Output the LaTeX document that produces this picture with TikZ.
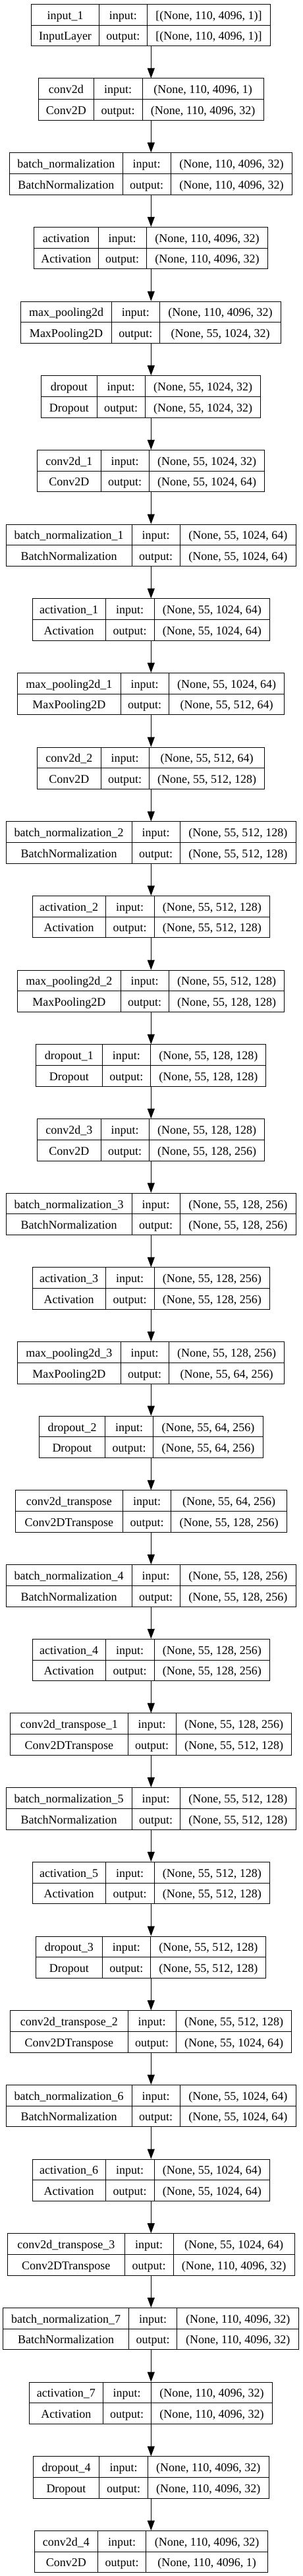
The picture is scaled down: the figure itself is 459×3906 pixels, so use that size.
\documentclass[tikz,border=0pt]{standalone}
\usepackage{fontspec}
\setmainfont{Liberation Serif}
\usetikzlibrary{arrows.meta}
\tikzset{font=\fontsize{18}{22}\selectfont}
\tikzset{cell/.style={anchor=base, inner sep=0pt}}
\tikzset{layer/.style={draw, line width=1pt, inner sep=0pt, anchor=north,
    minimum height=63.5pt}}
\tikzset{flow/.style={line width=1pt, -{Triangle[width=11pt,length=15pt]}}}

% id, index, left edge, first split, second split, name, class, input, output
\newcommand{\layerbox}[9]{%
  \pgfmathsetmacro\ltop{5.8+112.68*(#2-1)}
  \pgfmathsetmacro\lwid{2*(229.3-#3)}
  \pgfmathsetmacro\lright{458.6-#3}
  \node[layer, minimum width=\lwid pt] (#1) at (229.3,\ltop) {};
  \draw[line width=1pt] (#4,\ltop) -- ++(0,63.5) (#5,\ltop) -- ++(0,63.5)
    (#1.west) -- (#1.east);
  \node[cell] (#1-name) at ({(#3+#4)/2},{\ltop+23.3}) {#6};
  \node[cell] (#1-cls) at ({(#3+#4)/2},{\ltop+55}) {#7};
  \node[cell] (#1-kin) at ({(#4+#5)/2},{\ltop+23.3}) {input:};
  \node[cell] (#1-kout) at ({(#4+#5)/2},{\ltop+55}) {output:};
  \node[cell] (#1-in) at ({(#5+\lright)/2},{\ltop+23.3}) {#8};
  \node[cell] (#1-out) at ({(#5+\lright)/2},{\ltop+55}) {#9};
}

\begin{document}
\begin{tikzpicture}[x=1pt, y=-1pt]
  \useasboundingbox (0,0) rectangle (459,3906);

  \layerbox{l1}{1}{47.7}{150.3}{223.3}{input\_1}{InputLayer}{[(None, 110, 4096, 1)]}{[(None, 110, 4096, 1)]}
  \layerbox{l2}{2}{58.3}{142.3}{216}{conv2d}{Conv2D}{(None, 110, 4096, 1)}{(None, 110, 4096, 32)}
  \layerbox{l3}{3}{14.7}{186}{259.3}{batch\_normalization}{BatchNormalization}{(None, 110, 4096, 32)}{(None, 110, 4096, 32)}
  \layerbox{l4}{4}{51.7}{149}{222.3}{activation}{Activation}{(None, 110, 4096, 32)}{(None, 110, 4096, 32)}
  \layerbox{l5}{5}{31.7}{169.3}{242.3}{max\_pooling2d}{MaxPooling2D}{(None, 110, 4096, 32)}{(None, 55, 1024, 32)}
  \layerbox{l6}{6}{62.7}{147}{220.3}{dropout}{Dropout}{(None, 55, 1024, 32)}{(None, 55, 1024, 32)}
  \layerbox{l7}{7}{56.7}{153}{226.3}{conv2d\_1}{Conv2D}{(None, 55, 1024, 32)}{(None, 55, 1024, 64)}
  \layerbox{l8}{8}{9.3}{200}{273.3}{batch\_normalization\_1}{BatchNormalization}{(None, 55, 1024, 64)}{(None, 55, 1024, 64)}
  \layerbox{l9}{9}{49}{160.3}{234}{activation\_1}{Activation}{(None, 55, 1024, 64)}{(None, 55, 1024, 64)}
  \layerbox{l10}{10}{26.7}{183}{256.3}{max\_pooling2d\_1}{MaxPooling2D}{(None, 55, 1024, 64)}{(None, 55, 512, 64)}
  \layerbox{l11}{11}{56.7}{153}{226.3}{conv2d\_2}{Conv2D}{(None, 55, 512, 64)}{(None, 55, 512, 128)}
  \layerbox{l12}{12}{9.3}{200}{273.3}{batch\_normalization\_2}{BatchNormalization}{(None, 55, 512, 128)}{(None, 55, 512, 128)}
  \layerbox{l13}{13}{49}{160.3}{234}{activation\_2}{Activation}{(None, 55, 512, 128)}{(None, 55, 512, 128)}
  \layerbox{l14}{14}{26.7}{183}{256.3}{max\_pooling2d\_2}{MaxPooling2D}{(None, 55, 512, 128)}{(None, 55, 128, 128)}
  \layerbox{l15}{15}{54.7}{155}{228.7}{dropout\_1}{Dropout}{(None, 55, 128, 128)}{(None, 55, 128, 128)}
  \layerbox{l16}{16}{56.7}{153}{226.3}{conv2d\_3}{Conv2D}{(None, 55, 128, 128)}{(None, 55, 128, 256)}
  \layerbox{l17}{17}{9.3}{200}{273.3}{batch\_normalization\_3}{BatchNormalization}{(None, 55, 128, 256)}{(None, 55, 128, 256)}
  \layerbox{l18}{18}{49}{160.3}{234}{activation\_3}{Activation}{(None, 55, 128, 256)}{(None, 55, 128, 256)}
  \layerbox{l19}{19}{26.7}{183}{256.3}{max\_pooling2d\_3}{MaxPooling2D}{(None, 55, 128, 256)}{(None, 55, 64, 256)}
  \layerbox{l20}{20}{59.3}{159.7}{232.7}{dropout\_2}{Dropout}{(None, 55, 64, 256)}{(None, 55, 64, 256)}
  \layerbox{l21}{21}{23}{186.7}{259.7}{conv2d\_transpose}{Conv2DTranspose}{(None, 55, 64, 256)}{(None, 55, 128, 256)}
  \layerbox{l22}{22}{9.3}{200}{273.3}{batch\_normalization\_4}{BatchNormalization}{(None, 55, 128, 256)}{(None, 55, 128, 256)}
  \layerbox{l23}{23}{49}{160.3}{234}{activation\_4}{Activation}{(None, 55, 128, 256)}{(None, 55, 128, 256)}
  \layerbox{l24}{24}{15.7}{194}{267.3}{conv2d\_transpose\_1}{Conv2DTranspose}{(None, 55, 128, 256)}{(None, 55, 512, 128)}
  \layerbox{l25}{25}{9.3}{200}{273.3}{batch\_normalization\_5}{BatchNormalization}{(None, 55, 512, 128)}{(None, 55, 512, 128)}
  \layerbox{l26}{26}{49}{160.3}{234}{activation\_5}{Activation}{(None, 55, 512, 128)}{(None, 55, 512, 128)}
  \layerbox{l27}{27}{54.7}{155}{228.7}{dropout\_3}{Dropout}{(None, 55, 512, 128)}{(None, 55, 512, 128)}
  \layerbox{l28}{28}{15.7}{194}{267.3}{conv2d\_transpose\_2}{Conv2DTranspose}{(None, 55, 512, 128)}{(None, 55, 1024, 64)}
  \layerbox{l29}{29}{9.3}{200}{273.3}{batch\_normalization\_6}{BatchNormalization}{(None, 55, 1024, 64)}{(None, 55, 1024, 64)}
  \layerbox{l30}{30}{49}{160.3}{234}{activation\_6}{Activation}{(None, 55, 1024, 64)}{(None, 55, 1024, 64)}
  \layerbox{l31}{31}{11.3}{189.3}{263}{conv2d\_transpose\_3}{Conv2DTranspose}{(None, 55, 1024, 64)}{(None, 110, 4096, 32)}
  \layerbox{l32}{32}{4.7}{195.3}{268.7}{batch\_normalization\_7}{BatchNormalization}{(None, 110, 4096, 32)}{(None, 110, 4096, 32)}
  \layerbox{l33}{33}{44.7}{156}{229.3}{activation\_7}{Activation}{(None, 110, 4096, 32)}{(None, 110, 4096, 32)}
  \layerbox{l34}{34}{50.3}{150.7}{224.3}{dropout\_4}{Dropout}{(None, 110, 4096, 32)}{(None, 110, 4096, 32)}
  \layerbox{l35}{35}{52}{148.7}{221.7}{conv2d\_4}{Conv2D}{(None, 110, 4096, 32)}{(None, 110, 4096, 1)}

  \foreach \a [count=\b from 2] in {1,...,34}
    \draw[flow] (l\a.south) -- (l\b.north);

\end{tikzpicture}
\end{document}
